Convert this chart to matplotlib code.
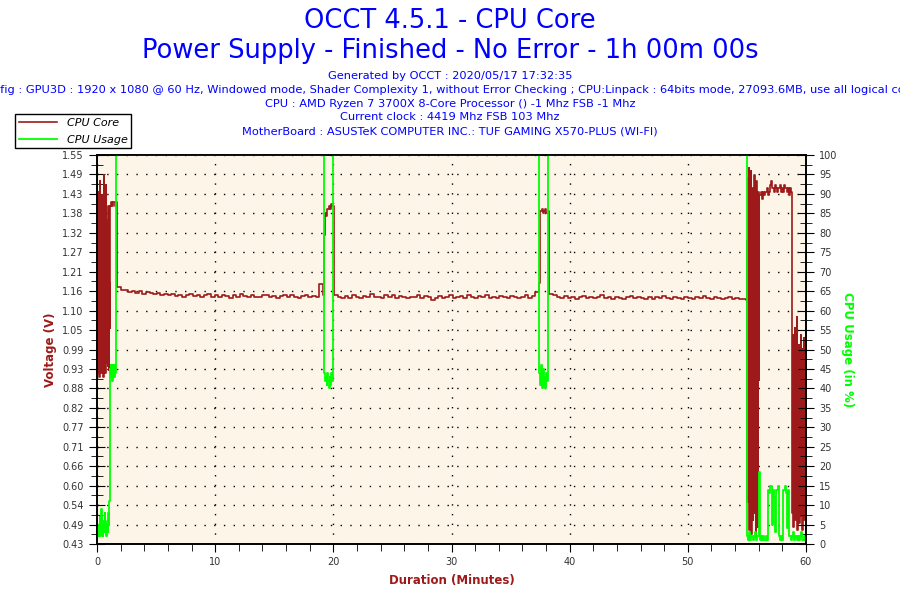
import numpy as np
import matplotlib
matplotlib.use('Agg')
import matplotlib.pyplot as plt
from matplotlib.ticker import MultipleLocator

# Chart text
title_lines = ['OCCT 4.5.1 - CPU Core', 'Power Supply - Finished - No Error - 1h 00m 00s']
info_lines = ['Generated by OCCT : 2020/05/17 17:32:35',
              'Config : GPU3D : 1920 x 1080 @ 60 Hz, Windowed mode, Shader Complexity 1, without Error Checking ; '
              'CPU:Linpack : 64bits mode, 27093.6MB, use all logical cores',
              'CPU : AMD Ryzen 7 3700X 8-Core Processor () -1 Mhz FSB -1 Mhz',
              'Current clock : 4419 Mhz FSB 103 Mhz',
              'MotherBoard : ASUSTeK COMPUTER INC.: TUF GAMING X570-PLUS (WI-FI)']
volt_ticklabels = ['0.43', '0.49', '0.54', '0.60', '0.66', '0.71', '0.77', '0.82', '0.88', '0.93', '0.99',
                   '1.05', '1.10', '1.16', '1.21', '1.27', '1.32', '1.38', '1.43', '1.49', '1.55']

# CPU Core voltage (V), segments: (start min, end min, values)
v_start = [1.46, 0.93, 1.44, 0.92, 1.21, 0.91, 1.47, 0.95, 1.30, 0.92, 1.43, 0.94, 1.10, 0.91,
           1.49, 0.96, 1.25, 0.92, 1.46, 0.93, 1.12, 0.95, 1.36, 0.94, 1.40, 0.93, 1.18, 1.05]
v_boost1 = [1.40, 1.41, 1.40, 1.41, 1.41, 1.40, 1.41, 1.41]
v_run1 = [1.166, 1.158, 1.160, 1.152, 1.155, 1.150, 1.156, 1.148, 1.152, 1.150, 1.146, 1.150, 1.145,
          1.148, 1.143, 1.146, 1.142, 1.145, 1.140, 1.144, 1.147, 1.141, 1.145, 1.139, 1.143, 1.146,
          1.140, 1.143, 1.139, 1.145, 1.141, 1.136, 1.143, 1.140, 1.147, 1.141, 1.139, 1.144, 1.140,
          1.138, 1.143, 1.145, 1.139, 1.142, 1.136, 1.141, 1.144, 1.139, 1.143, 1.140, 1.135, 1.141,
          1.144, 1.139, 1.142, 1.139, 1.176, 1.143]
v_dip1 = [1.317, 1.380, 1.370, 1.390, 1.400, 1.390, 1.405, 1.400, 1.236]
v_run2 = [1.143, 1.139, 1.135, 1.141, 1.137, 1.145, 1.139, 1.136, 1.142, 1.139, 1.146, 1.138, 1.140,
          1.135, 1.143, 1.139, 1.145, 1.137, 1.141, 1.139, 1.135, 1.139, 1.139, 1.143, 1.136, 1.141,
          1.139, 1.130, 1.137, 1.141, 1.135, 1.139, 1.143, 1.137, 1.139, 1.141, 1.135, 1.143, 1.139,
          1.136, 1.141, 1.139, 1.144, 1.137, 1.139, 1.135, 1.142, 1.139, 1.136, 1.141, 1.139, 1.135,
          1.139, 1.143, 1.137, 1.141, 1.152, 1.155]
v_dip2 = [1.180, 1.385, 1.390, 1.380, 1.385, 1.390, 1.380, 1.385, 1.200]
v_run3 = [1.148, 1.143, 1.139, 1.135, 1.141, 1.136, 1.139, 1.133, 1.138, 1.141, 1.136, 1.139, 1.135,
          1.139, 1.143, 1.136, 1.139, 1.134, 1.139, 1.136, 1.133, 1.138, 1.141, 1.135, 1.139, 1.136,
          1.133, 1.139, 1.133, 1.138, 1.135, 1.141, 1.136, 1.133, 1.139, 1.135, 1.133, 1.139, 1.136,
          1.133, 1.138, 1.135, 1.141, 1.136, 1.133, 1.139, 1.135, 1.133, 1.136, 1.139, 1.133, 1.136,
          1.133, 1.133, 1.130]
v_wild1 = [1.30, 0.55, 1.48, 0.62, 1.51, 0.47, 1.25, 0.80, 1.50, 0.46, 1.10, 0.58, 1.45, 0.50,
           1.38, 0.70, 1.49, 0.52, 1.20, 0.45, 1.47, 0.65, 1.40, 0.48, 1.44, 0.90, 1.43]
v_boost2 = [1.43, 1.44, 1.42, 1.44, 1.43, 1.44, 1.45, 1.43, 1.44, 1.46, 1.47, 1.45, 1.44, 1.46,
            1.45, 1.44, 1.45, 1.46, 1.44, 1.45, 1.44, 1.46, 1.45, 1.44, 1.45, 1.43, 1.45, 1.44]
v_wild2 = [0.95, 0.52, 1.03, 0.48, 0.98, 0.60, 1.05, 0.50, 0.90, 0.55, 1.08, 0.47, 0.92, 0.62,
           1.00, 0.49, 0.97, 0.58, 1.03, 0.51, 0.94, 0.47, 0.99, 0.64, 1.02, 0.50, 0.96, 0.88, 1.27, 1.26]
volt_segments = [(0.00, 1.08, v_start), (1.12, 1.66, v_boost1), (1.70, 19.12, v_run1),
                 (19.18, 20.02, v_dip1), (20.06, 37.40, v_run2), (37.43, 38.24, v_dip2),
                 (38.28, 54.96, v_run3), (55.00, 56.02, v_wild1), (56.06, 58.76, v_boost2),
                 (58.80, 60.00, v_wild2)]

# CPU Usage (%), segments
u_start = [3, 4, 2, 5, 3, 7, 2, 4, 9, 3, 5, 2, 6, 3, 4, 8, 3, 5, 2, 4, 6, 3, 8, 5, 11, 45]
u_load1 = [44, 46, 43, 45, 42, 46, 44, 45, 43, 46, 44, 55, 100]
u_dip1 = [56, 44, 42, 43, 41, 44, 42, 40, 43, 41, 44, 42, 45, 100]
u_dip2 = [44, 41, 46, 42, 40, 45, 41, 43, 40, 44, 42, 46, 100]
u_end = [2, 1, 3, 1, 2, 1, 2, 3, 1, 2, 18.5, 1, 2, 1, 2, 1, 2, 1, 14, 13, 15, 5, 14, 12, 3, 14, 15,
         2, 1, 2, 1, 14, 15, 13, 4, 14, 2, 1, 2, 3, 1, 2, 1, 2, 1, 2, 3, 1, 2, 1, 2]
usage_segments = [(0.00, 1.07, u_start), (1.10, 1.63, u_load1), (19.18, 20.00, u_dip1),
                  (37.43, 38.19, u_dip2), (54.98, 60.00, u_end)]


def build(segments):
    t, v = [], []
    for start, end, vals in segments:
        t.extend(np.linspace(start, end, len(vals)))
        v.extend(vals)
    return np.array(t), np.array(v)


volt_t, volt_v = build(volt_segments)
use_t, use_v = build(usage_segments)

red = '#9E1A1A'
green = '#00FF00'
blue = '#0000FF'

fig = plt.figure(figsize=(9, 6), dpi=100)
fig.patch.set_facecolor('white')
ax = fig.add_axes([97 / 900, 56 / 600, 709 / 900, 389 / 600])
ax.set_facecolor('#FDF6E8')
ax2 = ax.twinx()

l1, = ax.plot(volt_t, volt_v, color=red, lw=1.2, drawstyle='steps-post', label='CPU Core')
l2, = ax2.plot(use_t, use_v, color=green, lw=1.3, drawstyle='steps-post', label='CPU Usage')

vmin, vmax = 0.43, 1.546
ax.set_xlim(0, 60)
ax.set_ylim(vmin, vmax)
ax2.set_ylim(0, 100)

ax.set_xticks(np.arange(0, 61, 10))
ax.xaxis.set_minor_locator(MultipleLocator(2))
vt = np.linspace(vmin, vmax, 21)
ax.set_yticks(vt)
ax.set_yticklabels(volt_ticklabels)
ax.set_yticks((vt[:-1] + vt[1:]) / 2, minor=True)
ax2.set_yticks(np.arange(0, 101, 5))
ax2.yaxis.set_minor_locator(MultipleLocator(2.5))

ax.grid(True, which='major', color='black', linestyle=(0, (1, 6)), linewidth=1)
ax.tick_params(axis='x', which='major', direction='out', length=6, labelsize=7, labelcolor='#333333')
ax.tick_params(axis='x', which='minor', direction='out', length=5)
ax.tick_params(axis='y', which='major', direction='inout', length=12, labelsize=7, labelcolor='#333333')
ax.tick_params(axis='y', which='minor', direction='inout', length=8)
ax2.tick_params(axis='y', which='major', direction='inout', length=12, labelsize=7, labelcolor='#333333')
ax2.tick_params(axis='y', which='minor', direction='inout', length=8)
for a in (ax, ax2):
    for s in a.spines.values():
        s.set_linewidth(1.2)

ax.set_xlabel('Duration (Minutes)', color=red, fontsize=8.5, fontweight='bold', labelpad=5)
ax.set_ylabel('Voltage (V)', color=red, fontsize=8.5, fontweight='bold', labelpad=4)
ax2.set_ylabel('CPU Usage (in %)', color=green, fontsize=8.5, fontweight='bold', rotation=270, labelpad=12)

fig.text(0.5, 1 - 21 / 600, title_lines[0], ha='center', va='center', color=blue, fontsize=18.5)
fig.text(0.5, 1 - 51 / 600, title_lines[1], ha='center', va='center', color=blue, fontsize=18.5)
for i, line in enumerate(info_lines):
    fig.text(0.5, 1 - (76 + 13.8 * i) / 600, line, ha='center', va='center', color=blue, fontsize=8.2)

leg = fig.legend(handles=[l1, l2], loc='upper left', bbox_to_anchor=(15 / 900, 1 - 114 / 600),
                 prop={'style': 'italic', 'size': 8}, frameon=True, fancybox=False,
                 edgecolor='black', framealpha=1, borderpad=0.35, labelspacing=0.6,
                 handlelength=3.4, handletextpad=0.9, borderaxespad=0)
leg.get_frame().set_linewidth(1)

fig.savefig('out.png', dpi=100)
